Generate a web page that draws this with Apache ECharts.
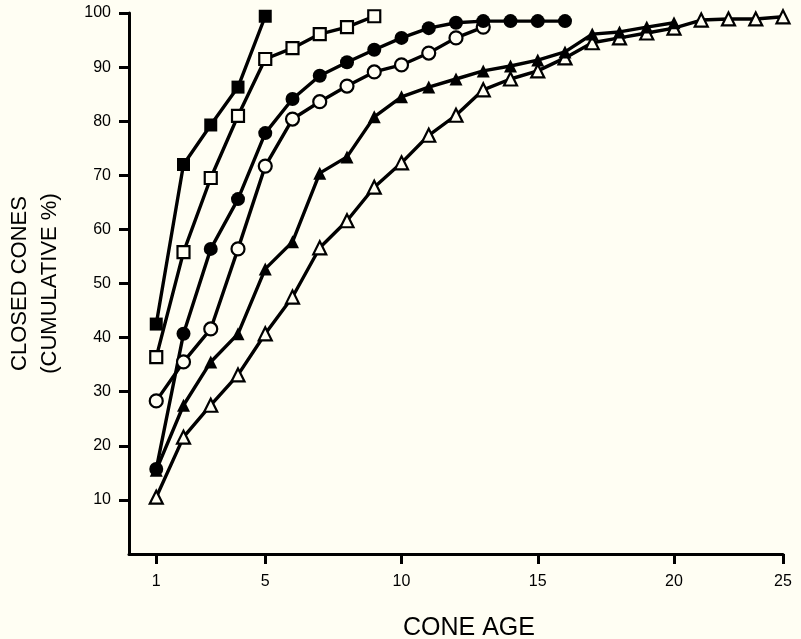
<!DOCTYPE html>
<html>
<head>
<meta charset="utf-8">
<script src="https://cdn.jsdelivr.net/npm/echarts@6/dist/echarts.min.js"></script>
<style>
  html, body { margin: 0; padding: 0; background: #fffef3; }
  #chart { width: 801px; height: 639px; }
</style>
</head>
<body>
<div id="chart"></div>
<script>
// Cone ages (x) for each series
const agesFilledSquare = [1, 2, 3, 4, 5];
const agesOpenSquare = [1, 2, 3, 4, 5, 6, 7, 8, 9];
const agesFilledCircle = [1, 2, 3, 4, 5, 6, 7, 8, 9, 10, 11, 12, 13, 14, 15, 16];
const agesOpenCircle = [1, 2, 3, 4, 5, 6, 7, 8, 9, 10, 11, 12, 13];
const agesFilledTriangle = [1, 2, 3, 4, 5, 6, 7, 8, 9, 10, 11, 12, 13, 14, 15, 16, 17, 18, 19, 20];
const agesOpenTriangle = [1, 2, 3, 4, 5, 6, 7, 8, 9, 10, 11, 12, 13, 14, 15, 16, 17, 18, 19, 20, 21, 22, 23, 24];

// Closed cones, cumulative %
const filledSquare = [42.5, 72, 79.3, 86.3, 99.4];
const openSquare = [36.4, 55.8, 69.5, 81, 91.5, 93.5, 96.1, 97.4, 99.4];
const filledCircle = [15.7, 40.7, 56.4, 65.6, 77.8, 84.1, 88.4, 90.9, 93.2, 95.4, 97.2, 98.2, 98.5, 98.5, 98.5, 98.5];
const openCircle = [28.3, 35.5, 41.6, 56.4, 71.7, 80.4, 83.6, 86.5, 89.1, 90.4, 92.6, 95.4, 97.4];
const filledTriangle = [15.5, 27.5, 35.5, 40.7, 52.7, 57.7, 70.4, 73.4, 80.8, 84.5, 86.3, 87.8, 89.3, 90.2, 91.3, 92.8, 96.1, 96.5, 97.4, 98.2];
const openTriangle = [10.5, 21.6, 27.5, 33.1, 40.7, 47.5, 56.6, 61.6, 67.8, 72.3, 77.4, 81.1, 85.8, 87.8, 89.3, 91.7, 94.5, 95.4, 96.3, 97.2, 98.7, 98.9, 98.9, 99.3];

// Axis ticks and labels as printed on the figure
const xTickValues = [1, 5, 10, 15, 20, 24];
const xTickLabels = ['1', '5', '10', '15', '20', '25'];
const yTickValues = [10, 20, 30, 40, 50, 60, 70, 80, 90, 100];

const FONT = 'Liberation Sans, Arial, Helvetica, sans-serif';
const BG = '#fffef3';

function pairs(xs, ys) { return xs.map((x, i) => [x, ys[i]]); }

function mkSeries(name, xs, ys, symbol, filled, size) {
  return {
    name: name,
    type: 'line',
    data: pairs(xs, ys),
    symbol: symbol,
    symbolSize: size,
    showAllSymbol: true,
    lineStyle: { color: '#000', width: 3.4 },
    itemStyle: {
      color: filled ? '#000' : BG,
      borderColor: '#000',
      borderWidth: filled ? 0 : 2.2
    },
    emphasis: { disabled: true },
    animation: false
  };
}

const chart = echarts.init(document.getElementById('chart'), null, { renderer: 'canvas' });
chart.setOption({
  backgroundColor: BG,
  animation: false,
  grid: { left: 129, right: 18, top: 13, bottom: 85, containLabel: false, outerBoundsMode: 'none' },
  xAxis: {
    type: 'value',
    min: 0,
    max: 24,
    name: 'CONE AGE',
    nameLocation: 'middle',
    nameGap: 62,
    nameTextStyle: { fontFamily: FONT, fontSize: 25, color: '#000', padding: [0, 0, 0, 26] },
    splitLine: { show: false },
    axisLine: { show: true, onZero: false, lineStyle: { color: '#000', width: 3 } },
    axisTick: { show: true, customValues: xTickValues, length: 10, lineStyle: { color: '#000', width: 3 } },
    axisLabel: {
      customValues: xTickValues,
      margin: 20,
      fontFamily: FONT, fontSize: 16, color: '#000',
      formatter: function (v) { const i = xTickValues.indexOf(v); return i >= 0 ? xTickLabels[i] : ''; }
    }
  },
  yAxis: {
    type: 'value',
    min: 0,
    max: 100,
    name: 'CLOSED CONES\n(CUMULATIVE %)',
    nameLocation: 'middle',
    nameGap: 64,
    nameTextStyle: { fontFamily: FONT, fontSize: 22, color: '#000', lineHeight: 30 },
    splitLine: { show: false },
    axisLine: { show: true, onZero: false, lineStyle: { color: '#000', width: 3 } },
    axisTick: { show: true, customValues: yTickValues, length: 10, lineStyle: { color: '#000', width: 3 } },
    axisLabel: { customValues: yTickValues, margin: 18, fontFamily: FONT, fontSize: 16, color: '#000' }
  },
  series: [
    mkSeries('open triangle', agesOpenTriangle, openTriangle, 'triangle', false, 13),
    mkSeries('filled triangle', agesFilledTriangle, filledTriangle, 'triangle', true, 13),
    mkSeries('open circle', agesOpenCircle, openCircle, 'circle', false, 13),
    mkSeries('filled circle', agesFilledCircle, filledCircle, 'circle', true, 14),
    mkSeries('open square', agesOpenSquare, openSquare, 'rect', false, 12),
    mkSeries('filled square', agesFilledSquare, filledSquare, 'rect', true, 13)
  ]
});
</script>
</body>
</html>
